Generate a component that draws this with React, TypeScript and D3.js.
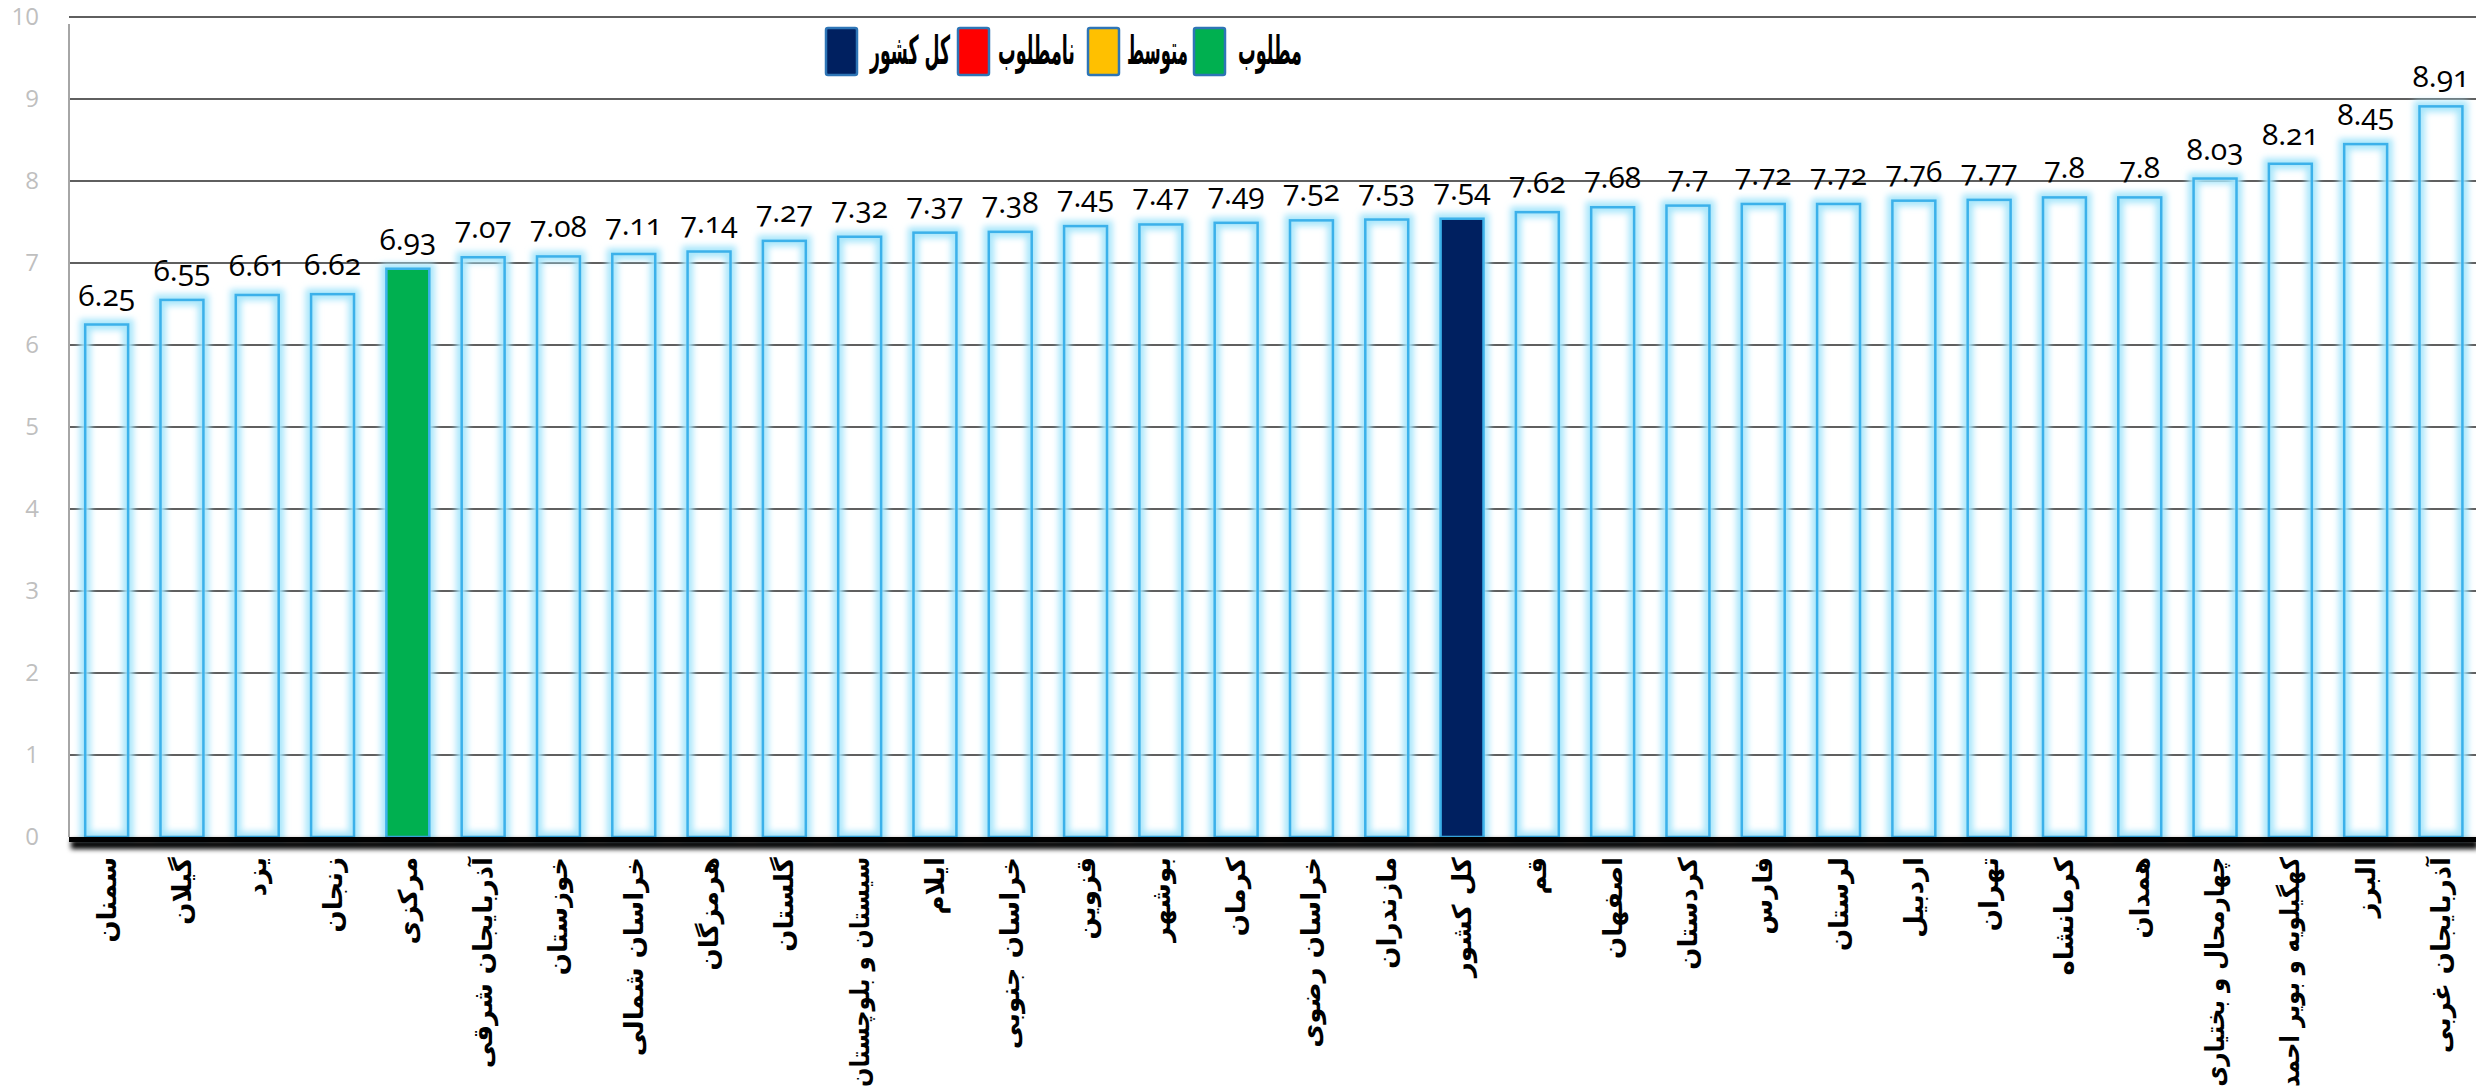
import { useLayoutEffect, useRef } from "react";
import * as d3 from "d3";

// provinces, left to right as in the source chart
const provinces = [
  "سمنان", "گیلان", "یزد", "زنجان", "مرکزی", "آذربایجان شرقی", "خوزستان", "خراسان شمالی",
  "هرمزگان", "گلستان", "سیستان و بلوچستان", "ایلام", "خراسان جنوبی", "قزوین", "بوشهر", "کرمان",
  "خراسان رضوی", "مازندران", "کل کشور", "قم", "اصفهان", "کردستان", "فارس", "لرستان",
  "اردبیل", "تهران", "کرمانشاه", "همدان", "چهارمحال و بختیاری", "کهگیلویه و بویر احمد", "البرز", "آذربایجان غربی",
];

const scores = [
  6.25, 6.55, 6.61, 6.62, 6.93, 7.07, 7.08, 7.11,
  7.14, 7.27, 7.32, 7.37, 7.38, 7.45, 7.47, 7.49,
  7.52, 7.53, 7.54, 7.62, 7.68, 7.7, 7.72, 7.72,
  7.76, 7.77, 7.8, 7.8, 8.03, 8.21, 8.45, 8.91,
];

// bars that get a solid fill
const highlighted: Record<string, string> = {
  "مرکزی": "#00b050",
  "کل کشور": "#002060",
};

const yTicks = [0, 1, 2, 3, 4, 5, 6, 7, 8, 9, 10];

const legendLabels = ["کل کشور", "نامطلوب", "متوسط", "مطلوب"];
const legendColors = ["#002060", "#ff0000", "#ffc000", "#00b050"];

const W = 2476;
const H = 1092;
const plotLeft = 69;
const plotTop = 17;
const plotBottom = 837;
const step = 75.3;
const labelTop = 857;
const maxLabelLen = 230;

const arabicFont = "'DejaVu Sans', sans-serif";
const numFont = "'Open Sans', 'Lato', sans-serif";

// legend layout (square left edge, text left edge, text width)
const legendSq = [826, 958, 1088, 1194];
const legendTx = [870, 998, 1127, 1238];
const legendTw = [80, 77, 61, 64];
const legendMidY = 50;

export default function App() {
  const labelsRef = useRef<SVGGElement>(null);
  const legendRef = useRef<SVGGElement>(null);

  const x = d3
    .scaleBand<string>()
    .domain(provinces)
    .range([plotLeft, plotLeft + step * provinces.length])
    .paddingInner(0.43)
    .paddingOuter(0.215);

  const y = d3.scaleLinear().domain([0, 10]).range([plotBottom, plotTop]);

  const data = provinces.map((p, i) => ({ name: p, value: scores[i] }));

  useLayoutEffect(() => {
    // squeeze the long province names so they stay inside the picture
    if (labelsRef.current) {
      d3.select(labelsRef.current)
        .selectAll<SVGTextElement, unknown>("text")
        .each(function () {
          const len = this.getComputedTextLength();
          if (len > maxLabelLen) {
            const cx = +this.getAttribute("x")!;
            const s = maxLabelLen / len;
            this.setAttribute(
              "transform",
              `rotate(-90, ${cx}, ${labelTop}) translate(${cx}, ${labelTop}) scale(${s}, 1) translate(${-cx}, ${-labelTop})`
            );
          }
        });
    }
    // legend text is narrower in the source font, so scale it horizontally
    if (legendRef.current) {
      d3.select(legendRef.current)
        .selectAll<SVGTextElement, unknown>("text")
        .each(function (_, i) {
          const len = this.getComputedTextLength();
          const s = legendTw[i] / len;
          this.setAttribute("transform", `translate(${legendTx[i]}, ${legendMidY}) scale(${s}, 1)`);
        });
    }
  }, []);

  return (
    <div style={{ position: "absolute", left: 0, top: 0 }}>
      <svg width={W} height={H} style={{ display: "block", background: "#fff" }}>
        <defs>
          <filter id="glow" x="-30%" y="-10%" width="160%" height="120%">
            <feGaussianBlur stdDeviation="3" />
          </filter>
          <filter id="shadow" x="-5%" y="-200%" width="110%" height="500%">
            <feGaussianBlur stdDeviation="2.5" />
          </filter>
          <filter id="soft" x="-200%" y="-5%" width="500%" height="110%">
            <feGaussianBlur stdDeviation="1" />
          </filter>
        </defs>

        {/* gridlines */}
        {yTicks.slice(1).map((t) => (
          <line
            key={t}
            x1={plotLeft}
            x2={W}
            y1={y(t)}
            y2={y(t)}
            stroke="#5f5f5f"
            strokeWidth={2}
          />
        ))}

        {/* y tick labels */}
        {yTicks.map((t) => (
          <text
            key={t}
            x={39}
            y={y(t)}
            dy="0.35em"
            textAnchor="end"
            fontFamily={numFont}
            fontSize={24}
            fill="#bfbfbf"
          >
            {t}
          </text>
        ))}

        {/* left axis */}
        <line x1={plotLeft - 1} x2={plotLeft - 1} y1={24} y2={plotBottom} stroke="#777" strokeWidth={4} filter="url(#soft)" />
        <line x1={plotLeft} x2={plotLeft} y1={24} y2={plotBottom} stroke="#a6a6a6" strokeWidth={2} />

        {/* bars: glow, fill, outline */}
        {data.map((d) => {
          const bx = x(d.name)!;
          const bw = x.bandwidth();
          const by = y(d.value);
          const bh = plotBottom - by;
          const fill = highlighted[d.name];
          return (
            <g key={d.name}>
              <rect x={bx} y={by} width={bw} height={bh} fill="none" stroke="#a8e6fb" strokeWidth={11} filter="url(#glow)" />
              {fill && <rect x={bx} y={by} width={bw} height={bh} fill={fill} />}
              <rect x={bx} y={by} width={bw} height={bh} fill="none" stroke="#3cb1ea" strokeWidth={2.5} />
            </g>
          );
        })}

        {/* bottom axis with shadow */}
        <rect x={plotLeft + 2} y={plotBottom + 3} width={W - plotLeft} height={9} fill="#000" filter="url(#shadow)" />
        <rect x={plotLeft} y={plotBottom} width={W - plotLeft} height={5} fill="#000" />

        {/* value labels */}
        {data.map((d) => (
          <text
            key={d.name}
            x={x(d.name)! + x.bandwidth() / 2}
            y={y(d.value) - 19}
            textAnchor="middle"
            fontFamily={numFont}
            fontSize={30}
            fill="#000"
            style={{ fontVariantNumeric: "oldstyle-nums" }}
          >
            {d.value}
          </text>
        ))}

        {/* category labels */}
        <g ref={labelsRef}>
          {data.map((d) => {
            const cx = x(d.name)! + x.bandwidth() / 2;
            return (
              <text
                key={d.name}
                x={cx}
                y={labelTop}
                transform={`rotate(-90, ${cx}, ${labelTop})`}
                textAnchor="end"
                dominantBaseline="central"
                fontFamily={arabicFont}
                fontWeight="bold"
                fontSize={26}
                fill="#000"
              >
                {d.name}
              </text>
            );
          })}
        </g>

        {/* legend */}
        {legendLabels.map((label, i) => (
          <rect
            key={label}
            x={legendSq[i]}
            y={28}
            width={31}
            height={47}
            rx={2}
            fill={legendColors[i]}
            stroke="#2e75b6"
            strokeWidth={2.5}
          />
        ))}
        <g ref={legendRef}>
          {legendLabels.map((label, i) => (
            <text
              key={label}
              x={0}
              y={0}
              transform={`translate(${legendTx[i]}, ${legendMidY})`}
              dominantBaseline="central"
              textAnchor="start"
              fontFamily={arabicFont}
              fontWeight="bold"
              fontSize={40}
              fill="#000"
            >
              {label}
            </text>
          ))}
        </g>
      </svg>
    </div>
  );
}
